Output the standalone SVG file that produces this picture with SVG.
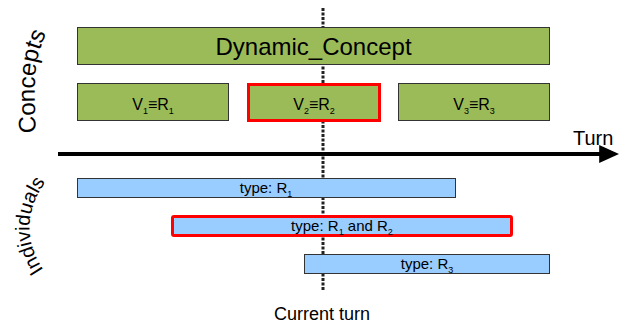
<svg xmlns="http://www.w3.org/2000/svg" xmlns:xlink="http://www.w3.org/1999/xlink" width="623" height="323" viewBox="0 0 623 323">
<style>
text{font-family:"Liberation Sans",Arial,sans-serif;fill:#000}
.concept{fill:#9bbb59;stroke:#333;stroke-width:1}
.ind{fill:#99ccff;stroke:#333;stroke-width:1}
.hl{stroke:#ff0000;stroke-width:3}
.lbl{font-size:16px;text-anchor:middle}
.blbl{font-size:15px;text-anchor:middle}
</style>
<defs>
<marker id="arrow" markerWidth="5" markerHeight="4.5" refX="0.2" refY="2.25" orient="auto" markerUnits="strokeWidth">
<path d="M0,0 L5,2.25 L0,4.5 Z" fill="#000"/>
</marker>
<path id="pc" d="M36,140 C35,95 30,60 50,27"/>
<path id="pi" d="M48,276 Q10,226 50,176"/>
</defs>
<rect width="623" height="323" fill="#fff"/>
<g id="connectors">
<line id="current-turn-line" x1="323" y1="8" x2="323" y2="291" stroke="#222" stroke-width="3" stroke-dasharray="3,1.5"/>
<line id="turn-axis" x1="58" y1="154" x2="600" y2="154" stroke="#000" stroke-width="4" marker-end="url(#arrow)"/>
</g>
<g id="label-concepts"><text font-size="24"><textPath xlink:href="#pc" href="#pc" startOffset="50%" text-anchor="middle">Concepts</textPath></text></g>
<g id="label-individuals"><text font-size="20"><textPath xlink:href="#pi" href="#pi" startOffset="50%" text-anchor="middle">Individuals</textPath></text></g>
<g id="label-turn"><text x="573" y="145" font-size="20">Turn</text></g>
<g id="label-current-turn"><text x="322" y="320" font-size="18" text-anchor="middle">Current turn</text></g>
<g id="dynamic-concept">
<rect class="concept" x="77.5" y="27.5" width="472" height="37"/>
<text x="313.5" y="55" font-size="24" text-anchor="middle">Dynamic_Concept</text>
</g>
<g id="v1">
<rect class="concept" x="77.5" y="83.5" width="151" height="37"/>
<text class="lbl" x="153" y="110">V<tspan font-size="9" dy="4">1</tspan><tspan dy="-4">≡R</tspan><tspan font-size="9" dy="4">1</tspan></text>
</g>
<g id="v2">
<rect class="concept hl" x="248.5" y="84.5" width="131" height="36"/>
<text class="lbl" x="314" y="110">V<tspan font-size="9" dy="4">2</tspan><tspan dy="-4">≡R</tspan><tspan font-size="9" dy="4">2</tspan></text>
</g>
<g id="v3">
<rect class="concept" x="398.5" y="83.5" width="151" height="37"/>
<text class="lbl" x="474" y="110">V<tspan font-size="9" dy="4">3</tspan><tspan dy="-4">≡R</tspan><tspan font-size="9" dy="4">3</tspan></text>
</g>
<g id="ind-r1">
<rect class="ind" x="77.5" y="178.5" width="378" height="19"/>
<text class="blbl" x="266" y="193">type: R<tspan font-size="9" dy="4">1</tspan></text>
</g>
<g id="ind-r1r2">
<rect class="ind hl" x="172.5" y="216.5" width="339" height="19" rx="1.5"/>
<text class="blbl" x="342" y="231">type: R<tspan font-size="9" dy="4">1</tspan><tspan dy="-4"> and R</tspan><tspan font-size="9" dy="4">2</tspan></text>
</g>
<g id="ind-r3">
<rect class="ind" x="304.5" y="254.5" width="245" height="19"/>
<text class="blbl" x="427" y="269">type: R<tspan font-size="9" dy="4">3</tspan></text>
</g>
</svg>
